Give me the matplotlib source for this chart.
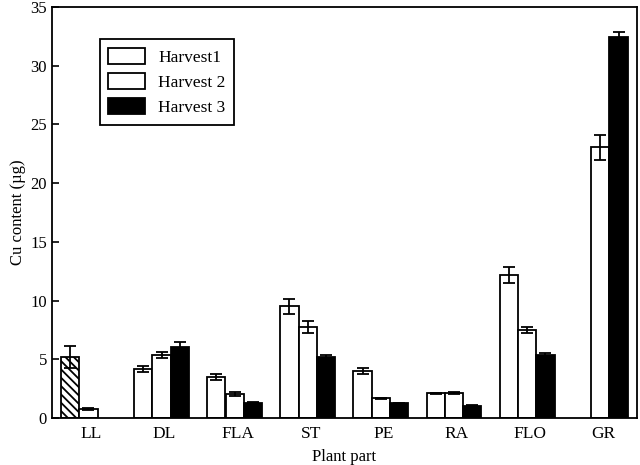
import numpy as np
import matplotlib
matplotlib.use("Agg")
import matplotlib.pyplot as plt
from matplotlib.patches import Patch

plt.rcParams['font.family'] = ['Liberation Serif', 'DejaVu Serif']
plt.rcParams['hatch.linewidth'] = 1.3

categories = ["LL", "DL", "FLA", "ST", "PE", "RA", "FLO", "GR"]
series_names = ["Harvest1", "Harvest 2", "Harvest 3"]
# np.nan = no bar
harvest1 = [5.2, 4.17, 3.46, 9.5, 4.0, 2.1, 12.15, np.nan]
harvest1_err = [0.95, 0.24, 0.26, 0.64, 0.28, 0.03, 0.68, np.nan]
harvest2 = [0.77, 5.34, 2.02, 7.72, 1.67, 2.16, 7.49, 23.05]
harvest2_err = [0.06, 0.27, 0.17, 0.5, 0.07, 0.08, 0.28, 1.05]
harvest3 = [np.nan, 6.02, 1.31, 5.22, 1.25, 1.05, 5.36, 32.45]
harvest3_err = [np.nan, 0.48, 0.05, 0.15, 0.05, 0.05, 0.14, 0.38]
hatched_categories = ["LL"]  # Harvest1 bar drawn hatched

fig = plt.figure(figsize=(6.4, 4.65), dpi=100)
ax = fig.add_axes([0.081, 0.101, 0.914, 0.884])

x = np.arange(len(categories))
w = 0.25
series = [(harvest1, harvest1_err, 'white'), (harvest2, harvest2_err, 'white'), (harvest3, harvest3_err, 'black')]
for k, (vals, errs, col) in enumerate(series):
    pos = x + (k - 1) * w
    for i in range(len(categories)):
        v = vals[i]
        if np.isnan(v):
            continue
        hatch = '\\\\\\\\' if (k == 0 and categories[i] in hatched_categories) else None
        ax.bar(pos[i], v, width=w, color=col, edgecolor='black', linewidth=1.3,
               hatch=hatch, zorder=2)
        ax.errorbar(pos[i], v, yerr=errs[i], fmt='none', ecolor='black',
                    elinewidth=1.3, capsize=4, capthick=1.3, zorder=3)

ax.set_xlim(-0.5, 7.5)
ax.set_ylim(0, 35)
ax.set_yticks(range(0, 36, 5))
ax.set_xticks(x + 0.04)
ax.set_xticklabels(categories)
ax.tick_params(axis='y', direction='in', length=5, width=1.2, labelsize=12)
ax.tick_params(axis='x', length=0, labelsize=12.5, pad=6)
for s in ax.spines.values():
    s.set_linewidth(1.3)
ax.set_xlabel("Plant part", fontsize=12, labelpad=5)
ax.set_ylabel("Cu content (\u00b5g)", fontsize=12, labelpad=3)

handles = [Patch(facecolor='white', edgecolor='black', linewidth=1.3),
           Patch(facecolor='white', edgecolor='black', linewidth=1.3),
           Patch(facecolor='black', edgecolor='black', linewidth=1.3)]
leg = ax.legend(handles, series_names, loc='upper left', bbox_to_anchor=(0.082, 0.922),
                borderaxespad=0, fancybox=False, framealpha=1, edgecolor='black',
                fontsize=12.5, handlelength=2.1, handleheight=1.05, labelspacing=0.42,
                borderpad=0.5, handletextpad=0.75)
leg.get_frame().set_linewidth(1.3)

fig.savefig("out.png", dpi=100)
